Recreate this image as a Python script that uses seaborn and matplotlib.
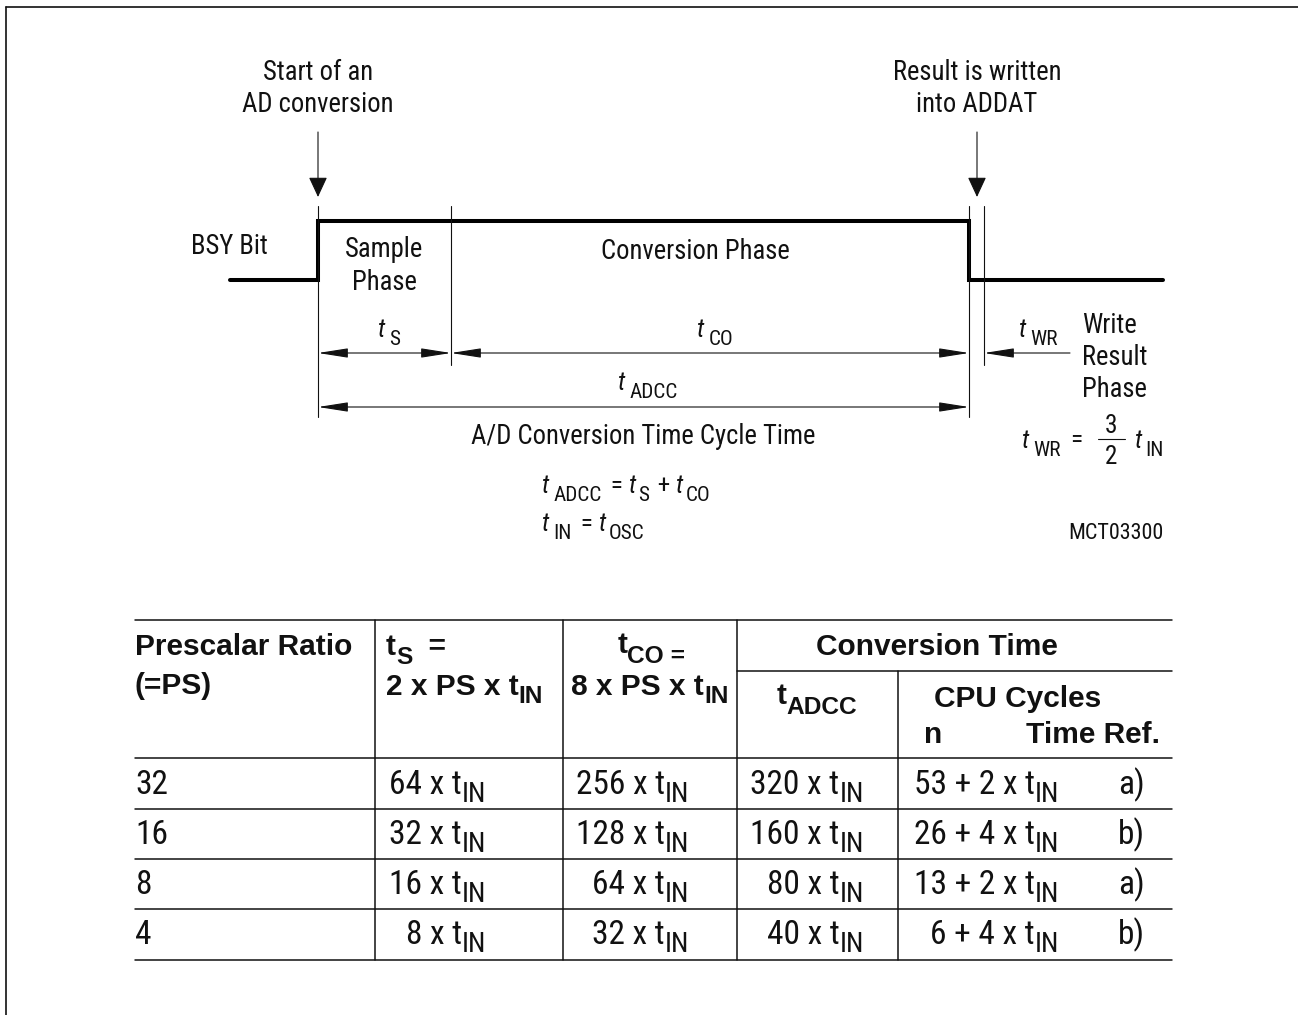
import numpy as np
import pandas as pd
import seaborn as sns
import matplotlib.pyplot as plt
from matplotlib import font_manager

###############
# Chart data  #
###############

# BSY bit waveform (time in drawing units, level 0 = low, 1 = high)
bsy_time = [230, 318, 318, 969, 969, 1163]
bsy_level = [0, 0, 1, 1, 0, 0]

# phase boundaries
t_start = 318
t_sample_end = 451
t_conv_end = 969
t_write_end = 984

# conversion table
ps_ratio = [32, 16, 8, 4]
ts_mult = [64, 32, 16, 8]
tco_mult = [256, 128, 64, 32]
tadcc_mult = [320, 160, 80, 40]
cpu_n = [53, 26, 13, 6]
cpu_k = [2, 4, 2, 4]
time_ref = ['a)', 'b)', 'a)', 'b)']

#########
# Setup #
#########

sns.set_theme(style="white")
names = {f.name for f in font_manager.fontManager.ttflist}


def pick(cands):
    for c in cands:
        if c in names:
            return c
    return 'Liberation Sans'


NARROW = pick(['Liberation Sans Narrow', 'Arial Narrow', 'Nimbus Sans Narrow',
               'Roboto Condensed', 'Archivo Narrow', 'Liberation Sans'])
WIDE = pick(['Liberation Sans', 'Arimo', 'DejaVu Sans'])
plt.rcParams['font.family'] = [NARROW, 'DejaVu Sans']

fig = plt.figure(figsize=(12.98, 10.15), dpi=100)
ax = fig.add_axes([0, 0, 1, 1])
renderer = fig.canvas.get_renderer()
INK = '#111111'


def fit(txt, target, family, weight='normal'):
    t = ax.text(0, 0, txt, fontsize=10, family=family, fontweight=weight)
    w = t.get_window_extent(renderer).width
    t.remove()
    return 10 * target / w


S = fit('Conversion Phase', 188, NARROW)          # diagram text
SS = S * 0.8                                      # diagram subscripts
ST = S * 0.95                                     # italic t
SM = fit('MCT03300', 95, NARROW)
R = fit('53 + 2 x t', 120, NARROW)                # table rows
RS = R * 0.85
H = fit('Prescalar Ratio', 217, WIDE, 'bold')     # table header
HS = H * 0.82


def rich(x, y, parts, ha='left', family=NARROW):
    # parts: (text, size, dy, style, weight) or a number = gap in px
    objs = []
    for p in parts:
        if isinstance(p, (int, float)):
            objs.append(p)
            continue
        txt, size, dy, style, weight = p
        objs.append(ax.text(0, y + dy, txt, fontsize=size, fontstyle=style, family=family,
                            fontweight=weight, ha='left', va='baseline', color=INK))
    widths = [o if isinstance(o, (int, float)) else o.get_window_extent(renderer).width for o in objs]
    total = sum(widths)
    cx = x - total if ha == 'right' else (x - total / 2 if ha == 'center' else x)
    for o, w in zip(objs, widths):
        if not isinstance(o, (int, float)):
            o.set_x(cx)
        cx += w


def label(x, y, txt, size=None, ha='center', weight='normal', family=NARROW):
    ax.text(x, y, txt, fontsize=size or S, ha=ha, va='baseline', color=INK,
            fontweight=weight, family=family)


def darrow(x0, x1, y, both=True):
    style = '<|-|>' if both else '-|>'
    ax.annotate('', xy=(x1, y), xytext=(x0, y),
                arrowprops=dict(arrowstyle=f'{style},head_length=1.85,head_width=0.29',
                                mutation_scale=10, lw=0.8, color=INK,
                                shrinkA=0, shrinkB=0))


##################
# Timing diagram #
##################

LOW, HIGH = 280, 221
wave = pd.DataFrame({'time': bsy_time, 'y': [LOW - v * (LOW - HIGH) for v in bsy_level]})
sns.lineplot(data=wave, x='time', y='y', sort=False, estimator=None, color='black',
             lw=2.9, ax=ax, legend=False)
ax.lines[-1].set_solid_joinstyle('miter')
ax.set_xlim(0, 1298)
ax.set_ylim(1015, 0)
ax.axis('off')

# frame
ax.plot([6, 1298], [7, 7], color=INK, lw=1.2)
ax.plot([6, 6], [7, 1015], color=INK, lw=1.2)

# phase boundary ticks
for x, y1 in [(t_start, 417), (t_sample_end, 365), (t_conv_end, 417), (t_write_end, 365)]:
    ax.plot([x, x], [206, y1], color=INK, lw=0.8)

# event arrows
for x in [t_start, 977]:
    ax.annotate('', xy=(x, 197), xytext=(x, 132),
                arrowprops=dict(arrowstyle='-|>,head_length=1.25,head_width=0.58',
                                mutation_scale=10, lw=0.8, color=INK, shrinkA=0, shrinkB=0))

label(t_start, 80, 'Start of an')
label(t_start, 112, 'AD conversion')
label(977, 80, 'Result is written')
label(977, 112, 'into ADDAT')
label(229, 254, 'BSY Bit')
label(384, 257, 'Sample')
label(384, 290, 'Phase')
label(695, 259, 'Conversion Phase')

# dimension arrows
darrow(t_start, t_sample_end, 353)
darrow(t_sample_end, t_conv_end, 353)
darrow(1070, t_write_end, 353, both=False)
darrow(t_start, t_conv_end, 407)

IT = 'italic'
N = 'normal'
rich(377, 337, [('t', ST, 0, IT, N), 5, ('S', SS, 8, N, N)])
rich(696, 337, [('t', ST, 0, IT, N), 5, ('CO', SS, 8, N, N)])
rich(1018, 337, [('t', ST, 0, IT, N), 5, ('WR', SS, 8, N, N)])
rich(617, 390, [('t', ST, 0, IT, N), 5, ('ADCC', SS, 8, N, N)])
for y, txt in [(333, 'Write'), (365, 'Result'), (397, 'Phase')]:
    label(1082, y, txt, ha='left')

label(643, 444, 'A/D Conversion Time Cycle Time')

# t_WR = 3/2 t_IN
rich(1021, 448, [('t', ST, 0, IT, N), 5, ('WR', SS, 8, N, N)])
label(1076, 447, '=', size=ST)
label(1111, 433, '3', size=ST)
label(1111, 464, '2', size=ST)
ax.plot([1098, 1125], [439, 439], color=INK, lw=0.8)
rich(1134, 448, [('t', ST, 0, IT, N), 4, ('IN', SS, 8, N, N)])

rich(541, 493, [('t', ST, 0, IT, N), 5, ('ADCC', SS, 8, N, N), 3, (' = ', ST, 0, N, N),
                ('t', ST, 0, IT, N), 3, ('S', SS, 8, N, N), 2, (' + ', ST, 0, N, N),
                ('t', ST, 0, IT, N), 3, ('CO', SS, 8, N, N)])
rich(541, 531, [('t', ST, 0, IT, N), 5, ('IN', SS, 8, N, N), 3, (' = ', ST, 0, N, N),
                ('t', ST, 0, IT, N), 3, ('OSC', SS, 8, N, N)])
label(1163, 539, 'MCT03300', size=SM, ha='right')

#########
# Table #
#########

TL, TR = 135, 1172
cols = [375, 563, 737, 898]
row_lines = [809, 859, 909, 960]
ax.plot([TL, TR], [620, 620], color=INK, lw=1.1)
ax.plot([cols[2], TR], [671, 671], color=INK, lw=1.1)
ax.plot([TL, TR], [758, 758], color=INK, lw=1.1)
for y in row_lines:
    ax.plot([TL, TR], [y, y], color=INK, lw=1.1)
for i, x in enumerate(cols):
    ax.plot([x, x], [671 if i == 3 else 620, row_lines[-1]], color=INK, lw=1.1)

B = 'bold'
label(TL, 655, 'Prescalar Ratio', size=H, ha='left', weight=B, family=WIDE)
label(TL, 694, '(=PS)', size=H, ha='left', weight=B, family=WIDE)
rich(386, 655, [('t', H, 0, N, B), ('S', HS, 9, N, B), ('  =', H, 0, N, B)], family=WIDE)
rich(386, 695, [('2 x PS x t', H, 0, N, B), ('IN', HS, 8, N, B)], family=WIDE)
rich(651, 653, [('t', H, 0, N, B), ('CO', HS, 10, N, B), (' =', HS, 10, N, B)],
     ha='center', family=WIDE)
rich(650, 695, [('8 x PS x t', H, 0, N, B), ('IN', HS, 8, N, B)], ha='center', family=WIDE)
label(937, 655, 'Conversion Time', size=H, weight=B, family=WIDE)
rich(817, 704, [('t', H, 0, N, B), ('ADCC', HS, 10, N, B)], ha='center', family=WIDE)
label(1018, 707, 'CPU Cycles', size=H, weight=B, family=WIDE)
label(924, 743, 'n', size=H, ha='left', weight=B, family=WIDE)
label(1160, 743, 'Time Ref.', size=H, ha='right', weight=B, family=WIDE)

for i, base in enumerate([794, 844, 894, 944]):
    label(TL, base, str(ps_ratio[i]), size=R, ha='left')
    rich(486, base, [(f'{ts_mult[i]} x t', R, 0, N, N), ('IN', RS, 8, N, N)], ha='right')
    rich(689, base, [(f'{tco_mult[i]} x t', R, 0, N, N), ('IN', RS, 8, N, N)], ha='right')
    rich(864, base, [(f'{tadcc_mult[i]} x t', R, 0, N, N), ('IN', RS, 8, N, N)], ha='right')
    rich(1059, base, [(f'{cpu_n[i]} + {cpu_k[i]} x t', R, 0, N, N), ('IN', RS, 8, N, N)], ha='right')
    label(1118, base, time_ref[i], size=R, ha='left')

fig.savefig('out.png', dpi=100, facecolor='white')
